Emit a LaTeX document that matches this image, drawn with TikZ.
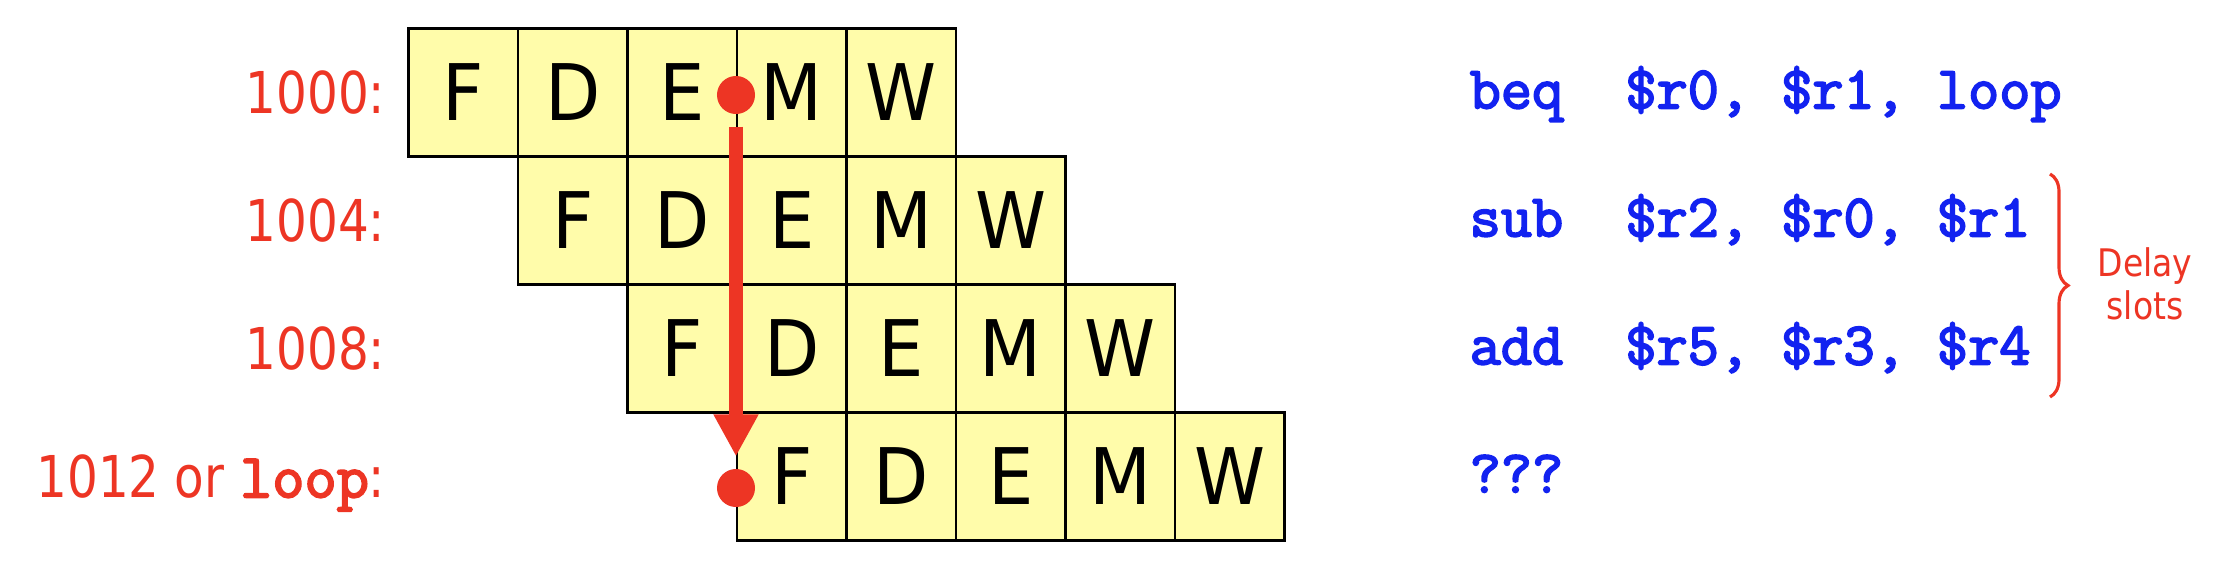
\documentclass[tikz,border=0pt]{standalone}
\usepackage{fontspec}
\setmainfont{DejaVu Sans}
\newfontfamily\stagefont{DejaVu Sans}[FakeStretch=0.92]
\newfontfamily\addrfont{DejaVu Sans}[FakeStretch=0.84]
\newfontfamily\notefont{DejaVu Sans}[FakeStretch=0.87]
\newfontfamily\codefont{Latin Modern Mono}[FakeBold=3]
\usetikzlibrary{arrows.meta,decorations.pathreplacing}
\definecolor{cellyellow}{RGB}{255,252,170}
\definecolor{jumpred}{RGB}{237,53,36}
\definecolor{codeblue}{RGB}{18,34,240}
\tikzset{
  stage/.style={draw, fill=cellyellow, line width=0.7pt, inner sep=0pt,
    minimum width=1.095cm, minimum height=1.28cm,
    font=\stagefont\fontsize{22.2}{26}\selectfont},
  addr/.style={anchor=base east, text=jumpred, inner sep=0pt,
    font=\addrfont\fontsize{16.4}{19}\selectfont},
  instr/.style={anchor=base west, text=codeblue, inner sep=0pt,
    font=\codefont\fontsize{17.2}{19}\selectfont},
  dot/.style={circle, fill=jumpred, inner sep=0pt, minimum size=0.38cm, outer sep=0.125cm},
  jump/.style={jumpred, line width=3.9pt, -{Triangle[width=0.42cm,length=0.42cm]}},
  slotbrace/.style={jumpred, line width=0.9pt, decorate,
    decoration={brace, amplitude=0.18cm}},
  note/.style={text=jumpred, align=center, inner sep=0pt,
    font=\notefont\fontsize{10.8}{12.2}\selectfont}
}
\begin{document}
\begin{tikzpicture}[x=0.01cm, y=-0.01cm]
\useasboundingbox (0,0) rectangle (2224,564);

\foreach \r in {0,...,3}
  \foreach \s [count=\c from 0] in {F,D,E,M,W}
    \node[stage] (c\r\c) at ({408.5+(\r+\c+0.5)*109.5}, {28.4+(\r+0.5)*128}) {\s};

\node[addr] (a0) at (386,113.4) {1000:};
\node[addr] (a1) at (386,241.4) {1004:};
\node[addr] (a2) at (386,369.4) {1008:};
\node[addr] (a3) at (386,497.4) {1012 or {\codefont\fontsize{17.8}{20}\selectfont loop}:};

\node[instr] (i0) at (1469,108.4) {beq~~\$r0,~\$r1,~loop};
\node[instr] (i1) at (1469,236.4) {sub~~\$r2,~\$r0,~\$r1};
\node[instr] (i2) at (1469,364.4) {add~~\$r5,~\$r3,~\$r4};
\node[instr] (i3) at (1469,492.4) {???};

\node[dot] (d0) at (736,95) {};
\node[dot] (d1) at (736,488) {};
\draw[jump] (d0) -- (d1);

\coordinate (bt) at (2050,174);
\coordinate (bb) at (2050,397);
\draw[slotbrace] (bt) -- (bb);
\node[note] (slots) at (2145,284) {Delay\\slots};

\end{tikzpicture}
\end{document}
